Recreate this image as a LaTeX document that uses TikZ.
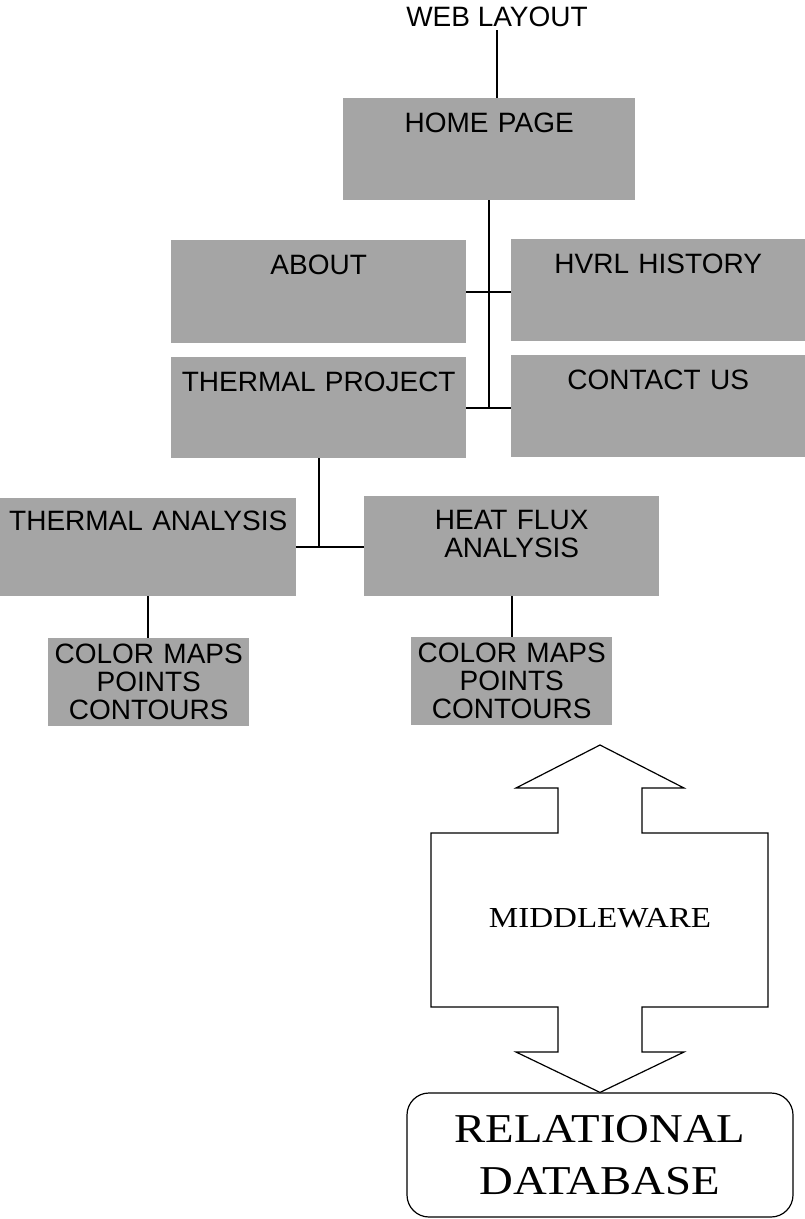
\documentclass[tikz,border=0pt]{standalone}
\usepackage{fontspec}
\setmainfont{Liberation Sans}
\newfontfamily\dbfont[FakeStretch=1.14]{Liberation Serif}
\definecolor{pagegray}{RGB}{165,165,165}
\tikzset{
  page/.style={fill=pagegray, anchor=north west, inner sep=0pt, align=center,
    text height=34pt, font=\fontsize{28}{28}\selectfont},
  link/.style={line width=1.6pt},
}
\begin{document}
\begin{tikzpicture}[x=1pt,y=-1pt]
    \useasboundingbox (0,0) rectangle (805,1219);
    % site pages
    \node[inner sep=3pt, font=\fontsize{28}{28}\selectfont] (web) at (497,17) {WEB LAYOUT};
    \node[page, text width=292pt, text depth=68pt] (home) at (343,98) {HOME PAGE};
    \node[page, text width=295pt, text depth=69pt] (about) at (171,240) {ABOUT};
    \node[page, text width=294pt, text depth=68pt] (hvrl) at (511,239) {HVRL HISTORY};
    \node[page, text width=295pt, text depth=67pt] (proj) at (171,357) {THERMAL PROJECT};
    \node[page, text width=294pt, text depth=68pt] (contact) at (511,355) {CONTACT US};
    \node[page, text width=296pt, text depth=66pt, text height=32pt] (ta) at (0,498) {THERMAL ANALYSIS};
    \node[page, text width=295pt, text depth=67pt, text height=33pt] (hf) at (364,496) {HEAT FLUX\\ANALYSIS};
    \node[page, text width=201pt, text depth=63pt, text height=25pt] (cmta) at (48,638) {COLOR MAPS\\POINTS\\CONTOURS};
    \node[page, text width=201pt, text depth=63pt, text height=25pt] (cmhf) at (411,637) {COLOR MAPS\\POINTS\\CONTOURS};
    % tree lines
    \draw[link] (web.south) -- (web.south |- home.north);
    \draw[link] (home.south) -- (home.south |- proj.east);
    \draw[link] (about.east) -- (about.east -| hvrl.west);
    \draw[link] (proj.east) -- (proj.east -| contact.west);
    \draw[link] (proj.south) -- (proj.south |- ta.east);
    \draw[link] (ta.east) -- (ta.east -| hf.west);
    \draw[link] (ta.south) -- (ta.south |- cmta.north);
    \draw[link] (hf.south) -- (hf.south |- cmhf.north);
    % middleware and database
    \node[draw, line width=1.2pt, rounded corners=22pt, minimum width=386pt, minimum height=124pt,
      align=center, font=\dbfont\fontsize{41}{52}\selectfont] (db) at (600,1155) {RELATIONAL\\DATABASE};
    \node[font=\dbfont\fontsize{29}{29}\selectfont] (mid) at (600,918) {MIDDLEWARE};
    \draw[line width=1.2pt] (600,745) -- (684,788) -- (642,788) -- (642,833) -- (768,833)
      -- (768,1007) -- (642,1007) -- (642,1052) -- (684,1052) -- (db.north) -- (516,1052)
      -- (558,1052) -- (558,1007) -- (431,1007) -- (431,833) -- (558,833) -- (558,788)
      -- (516,788) -- cycle;
\end{tikzpicture}
\end{document}
